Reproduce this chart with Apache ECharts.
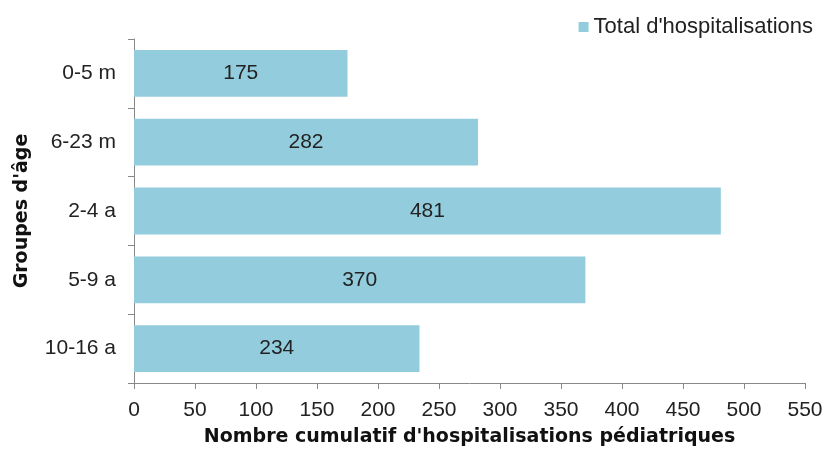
<!DOCTYPE html>
<html>
<head>
<meta charset="utf-8">
<script src="https://cdn.jsdelivr.net/npm/echarts@6/dist/echarts.min.js"></script>
<style>
  html, body { margin: 0; padding: 0; background: #fff; }
  #main { width: 828px; height: 452px; }
</style>
</head>
<body>
<div id="main"></div>
<script>
// categories top to bottom
var categories = ['0-5 m', '6-23 m', '2-4 a', '5-9 a', '10-16 a'];
var totals = [175, 282, 481, 370, 234];
var seriesName = "Total d'hospitalisations";

var myChart = echarts.init(document.getElementById('main'));

var option = {
  animation: false,
  backgroundColor: '#fff',
  textStyle: { fontFamily: 'Liberation Sans, Arial, sans-serif' },
  legend: {
    data: [seriesName],
    right: 10,
    top: 11,
    icon: 'rect',
    itemWidth: 10,
    itemHeight: 10,
    itemGap: 6,
    textStyle: { fontSize: 22, color: '#222', fontFamily: 'Liberation Sans, Arial, sans-serif' }
  },
  grid: { left: 134, right: 23, top: 39, bottom: 69 },
  xAxis: {
    type: 'value',
    min: 0,
    max: 550,
    interval: 50,
    name: "Nombre cumulatif d'hospitalisations pédiatriques",
    nameLocation: 'middle',
    nameGap: 45,
    nameTextStyle: { fontSize: 19, fontWeight: 'bold', color: '#111', fontFamily: 'DejaVu Sans, sans-serif' },
    axisLine: { show: true, lineStyle: { color: '#888', width: 1 } },
    axisTick: { show: true, length: 6, lineStyle: { color: '#888' } },
    axisLabel: { fontSize: 21, color: '#222', margin: 17 },
    splitLine: { show: false }
  },
  yAxis: {
    type: 'category',
    data: categories,
    inverse: true,
    name: "Groupes d'âge",
    nameLocation: 'middle',
    nameGap: 102,
    nameRotate: 90,
    nameTextStyle: { fontSize: 19, fontWeight: 'bold', color: '#111', fontFamily: 'DejaVu Sans, sans-serif' },
    axisLine: { show: true, lineStyle: { color: '#888', width: 1 } },
    axisTick: { show: true, length: 6, alignWithLabel: false, lineStyle: { color: '#888' } },
    axisLabel: { fontSize: 21, color: '#222', margin: 18 }
  },
  series: [{
    name: seriesName,
    type: 'bar',
    data: totals,
    barCategoryGap: '32%',
    itemStyle: { color: '#93CDDD' },
    label: {
      show: true,
      position: 'inside',
      fontSize: 21,
      color: '#222'
    }
  }]
};

option && myChart.setOption(option);
</script>
</body>
</html>
